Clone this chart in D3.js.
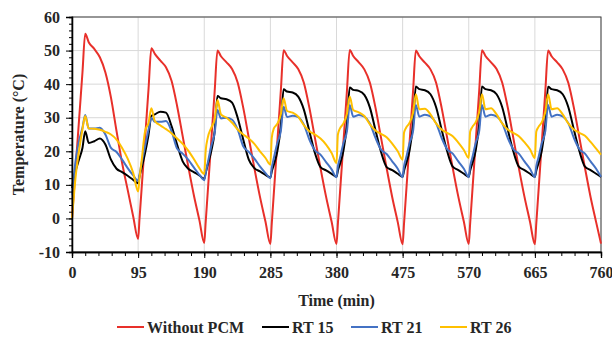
<!DOCTYPE html>
<html>
<head>
<meta charset="utf-8">
<script src="https://cdn.jsdelivr.net/npm/d3@7"></script>
<style>
  body { margin: 0; background: #fff; }
  text { font-family: "Liberation Serif", "Times New Roman", serif; font-weight: bold; fill: #262626; }
</style>
</head>
<body>
<div id="chart"></div>
<script>
// time (min), one row per 95 min cycle
var time = [
  0, 2, 5, 10, 15, 19, 24, 32, 40, 48, 56, 64, 72, 80, 88,
  95, 97, 100, 105, 110, 114, 119, 127, 135, 143, 151, 159, 167, 175, 183,
  190, 192, 195, 200, 205, 209, 214, 222, 230, 238, 246, 254, 262, 270, 278,
  285, 287, 290, 295, 300, 304, 309, 317, 325, 333, 341, 349, 357, 365, 373,
  380, 382, 385, 390, 395, 399, 404, 412, 420, 428, 436, 444, 452, 460, 468,
  475, 477, 480, 485, 490, 494, 499, 507, 515, 523, 531, 539, 547, 555, 563,
  570, 572, 575, 580, 585, 589, 594, 602, 610, 618, 626, 634, 642, 650, 658,
  665, 667, 670, 675, 680, 684, 689, 697, 705, 713, 721, 729, 737, 745, 753,
  760
];

var withoutPCM = [
  0, 5.8, 14.5, 29, 43.4, 55, 52.5, 50.5, 48, 43.5, 36, 26, 16.5, 8.5, 0.5,
  -6.1, -0.1, 8.8, 23.8, 38.7, 50.7, 49, 47, 45, 41, 33.5, 24.5, 15.5, 7, -0.5,
  -7.3, -1.3, 7.8, 22.9, 38, 50, 48.3, 46.5, 44.5, 40.5, 33, 24, 15, 6.5, -1,
  -7.6, -1.6, 7.6, 22.8, 38, 50.1, 48.4, 46.5, 44.5, 40.5, 33, 24, 15, 6.5, -1,
  -7.6, -1.6, 7.6, 22.8, 38, 50.2, 48.4, 46.5, 44.4, 40.4, 33, 24, 15, 6.4, -1.1,
  -7.7, -1.6, 7.5, 22.7, 37.9, 50, 48.3, 46.4, 44.4, 40.5, 33, 24, 15, 6.5, -1,
  -7.6, -1.6, 7.6, 22.8, 38, 50.1, 48.4, 46.5, 44.5, 40.5, 33.1, 24, 15, 6.5, -1,
  -7.7, -1.6, 7.5, 22.7, 37.9, 50, 48.3, 46.5, 44.4, 40.4, 33, 24, 15, 6.4, -1.1,
  -7.5
];

var rt15 = [
  9, 11.5, 14, 17.5, 21, 26, 22.5, 23, 23.8, 22, 17.5, 14.8, 13.8, 12.7, 11.5,
  10.5, 12.5, 15, 19.5, 25, 30.5, 31, 31.8, 31.5, 27.5, 22, 17, 14.8, 13.8, 12.8,
  11.8, 13.5, 16, 20, 26, 36.5, 35.8, 35.5, 34.5, 30, 23.5, 17.5, 15, 14, 13,
  12.2, 14, 16, 20, 27.5, 38.5, 37.8, 37.5, 36.3, 32.5, 26, 19.5, 15.3, 14.3, 13.3,
  12.4, 14.2, 16.2, 20.2, 28, 39, 38.3, 38, 36.8, 33, 26.3, 19.8, 15.3, 14.4, 13.3,
  12.4, 14.2, 16.3, 20.3, 28, 39.3, 38.5, 38.2, 37, 33.2, 26.5, 20, 15.4, 14.4, 13.3,
  12.4, 14.2, 16.3, 20.3, 28, 39.3, 38.5, 38.2, 37, 33.2, 26.5, 20, 15.4, 14.4, 13.3,
  12.4, 14.2, 16.3, 20.3, 28, 39.2, 38.5, 38.2, 37, 33.2, 26.5, 20, 15.4, 14.4, 13.3,
  12.4
];

var rt21 = [
  7, 11, 17, 23, 27, 30.8, 26.8, 26.8, 27, 25, 21, 19.8, 17.5, 15, 12.8,
  11.2, 13, 16.5, 21.5, 26.5, 30, 28.8, 28.8, 29, 26, 20.8, 19.3, 17.5, 15.2, 13,
  11.4, 13.5, 16.5, 21.5, 25.5, 32.3, 29.8, 30, 29.4, 26.5, 21.5, 19.8, 17.8, 15.5, 13.5,
  12, 15, 18, 22.5, 26, 33.3, 30.2, 30.6, 30.2, 28, 23.5, 20.3, 19, 16.8, 14.6,
  12.3, 15.5, 18, 22.5, 26, 33.8, 30.3, 30.8, 30.3, 28.3, 24, 20.5, 19.2, 17, 14.8,
  12.3, 15.5, 18, 22.5, 26, 33.8, 30.3, 30.9, 30.4, 28.4, 24, 20.6, 19.3, 17, 14.8,
  12.3, 15.5, 18, 22.5, 26, 33.8, 30.3, 30.9, 30.4, 28.4, 24, 20.6, 19.3, 17, 14.8,
  12.3, 15.5, 18, 22.5, 26, 33.8, 30.3, 30.9, 30.4, 28.4, 24, 20.6, 19.3, 17, 14.8,
  12.4
];

var rt26 = [
  0, 5, 12, 20, 26.5, 30.5, 26.8, 26.7, 26.4, 25.8, 25, 23.5, 21, 17.8, 13.5,
  8, 12, 17, 26, 28.5, 32.8, 29, 27.7, 26.6, 25.4, 23.8, 22.2, 20.2, 17.7, 15,
  13.2, 20, 24, 27, 29.5, 35.3, 31, 30, 28.5, 26.5, 25, 23.8, 22.2, 20, 18,
  16, 24, 26.8, 28.2, 31, 35.8, 32, 31.5, 30.3, 27.8, 26, 25, 23.8, 22, 19.5,
  16.5, 25, 26.8, 28.3, 31.2, 36.3, 32.3, 31.6, 30.5, 28, 26.2, 25.2, 24.2, 22.3, 20,
  17.5, 25.5, 27, 28.5, 31.5, 37, 32.5, 32.7, 31, 28.3, 26.5, 25.5, 24.5, 22.6, 20.4,
  18, 25.8, 27.2, 28.7, 31.7, 37, 32.5, 32.8, 31, 28.3, 26.5, 25.5, 24.5, 22.7, 20.6,
  18, 25.8, 27.2, 28.7, 31.7, 37, 32.5, 32.8, 31, 28.3, 26.5, 25.5, 24.6, 22.8, 20.8,
  19
];

var seriesNames = ["Without PCM", "RT 15", "RT 21", "RT 26"];
var seriesValues = [withoutPCM, rt15, rt21, rt26];
var seriesColors = ["#e8302a", "#000000", "#4472c4", "#ffc000"];

var xTicks = [0, 95, 190, 285, 380, 475, 570, 665, 760];
var yTicks = [-10, 0, 10, 20, 30, 40, 50, 60];

var svgWidth = 612;
var svgHeight = 340;
var margin = { top: 17, right: 11, bottom: 88, left: 72 };
var width = svgWidth - margin.left - margin.right;
var height = svgHeight - margin.top - margin.bottom;

var svg = d3.select("#chart")
  .append("svg")
  .attr("width", svgWidth)
  .attr("height", svgHeight);

var chartGroup = svg.append("g")
  .attr("transform", `translate(${margin.left}, ${margin.top})`);

var xScale = d3.scaleLinear().domain([0, 760]).range([0, width]);
var yScale = d3.scaleLinear().domain([-10, 60]).range([height, 0]);

// gridlines
chartGroup.append("g")
  .selectAll("line.hgrid")
  .data(yTicks)
  .enter()
  .append("line")
  .attr("x1", 0)
  .attr("x2", width)
  .attr("y1", d => yScale(d))
  .attr("y2", d => yScale(d))
  .attr("stroke", "#d9d9d9")
  .attr("stroke-width", 1);

chartGroup.append("g")
  .selectAll("line.vgrid")
  .data(xTicks)
  .enter()
  .append("line")
  .attr("x1", d => xScale(d))
  .attr("x2", d => xScale(d))
  .attr("y1", 0)
  .attr("y2", height)
  .attr("stroke", "#d9d9d9")
  .attr("stroke-width", 1);

// plot border
chartGroup.append("rect")
  .attr("width", width)
  .attr("height", height)
  .attr("fill", "none")
  .attr("stroke", "#404040")
  .attr("stroke-width", 1);

// lines
var line = d3.line()
  .x((d, i) => xScale(time[i]))
  .y(d => yScale(d))
  .curve(d3.curveMonotoneX);

seriesValues.forEach(function(vals, k) {
  chartGroup.append("path")
    .datum(vals)
    .attr("fill", "none")
    .attr("stroke", seriesColors[k])
    .attr("stroke-width", 2)
    .attr("stroke-linejoin", "round")
    .attr("d", line);
});

// axes (plain hyphen for negatives, like the original)
var plain = d => String(d);

var yMinor = chartGroup.append("g")
  .call(d3.axisLeft(yScale).tickValues(d3.range(-10, 61, 2)).tickSize(3).tickFormat(""));
var yMajor = chartGroup.append("g")
  .call(d3.axisLeft(yScale).tickValues(yTicks).tickSize(6).tickPadding(6).tickFormat(plain));

var xMinor = chartGroup.append("g")
  .attr("transform", `translate(0, ${height})`)
  .call(d3.axisBottom(xScale).tickValues(d3.range(0, 761, 19)).tickSize(4).tickFormat(""));
var xMajor = chartGroup.append("g")
  .attr("transform", `translate(0, ${height})`)
  .call(d3.axisBottom(xScale).tickValues(xTicks).tickSize(6).tickPadding(9).tickFormat(plain));

[yMinor, yMajor, xMinor, xMajor].forEach(function(g) {
  g.select(".domain").attr("stroke", "#000").attr("stroke-width", 1.3);
  g.selectAll(".tick line").attr("stroke", "#000");
  g.selectAll("text")
    .style("font-family", "'Liberation Serif', 'Times New Roman', serif")
    .style("font-weight", "bold")
    .style("font-size", "16px")
    .attr("fill", "#262626");
});

// axis titles
chartGroup.append("text")
  .attr("transform", "rotate(-90)")
  .attr("x", 0 - height / 2)
  .attr("y", 0 - margin.left + 24)
  .attr("text-anchor", "middle")
  .style("font-size", "16px")
  .text("Temperature (°C)");

chartGroup.append("text")
  .attr("x", width / 2)
  .attr("y", height + 54)
  .attr("text-anchor", "middle")
  .style("font-size", "16px")
  .text("Time (min)");

// legend
var legendX = [117, 262, 351, 440];
var legend = svg.append("g");
seriesNames.forEach(function(name, k) {
  legend.append("line")
    .attr("x1", legendX[k])
    .attr("x2", legendX[k] + 27)
    .attr("y1", 327)
    .attr("y2", 327)
    .attr("stroke", seriesColors[k])
    .attr("stroke-width", 2);
  legend.append("text")
    .attr("x", legendX[k] + 30)
    .attr("y", 332.5)
    .style("font-size", "16px")
    .text(name);
});
</script>
</body>
</html>
